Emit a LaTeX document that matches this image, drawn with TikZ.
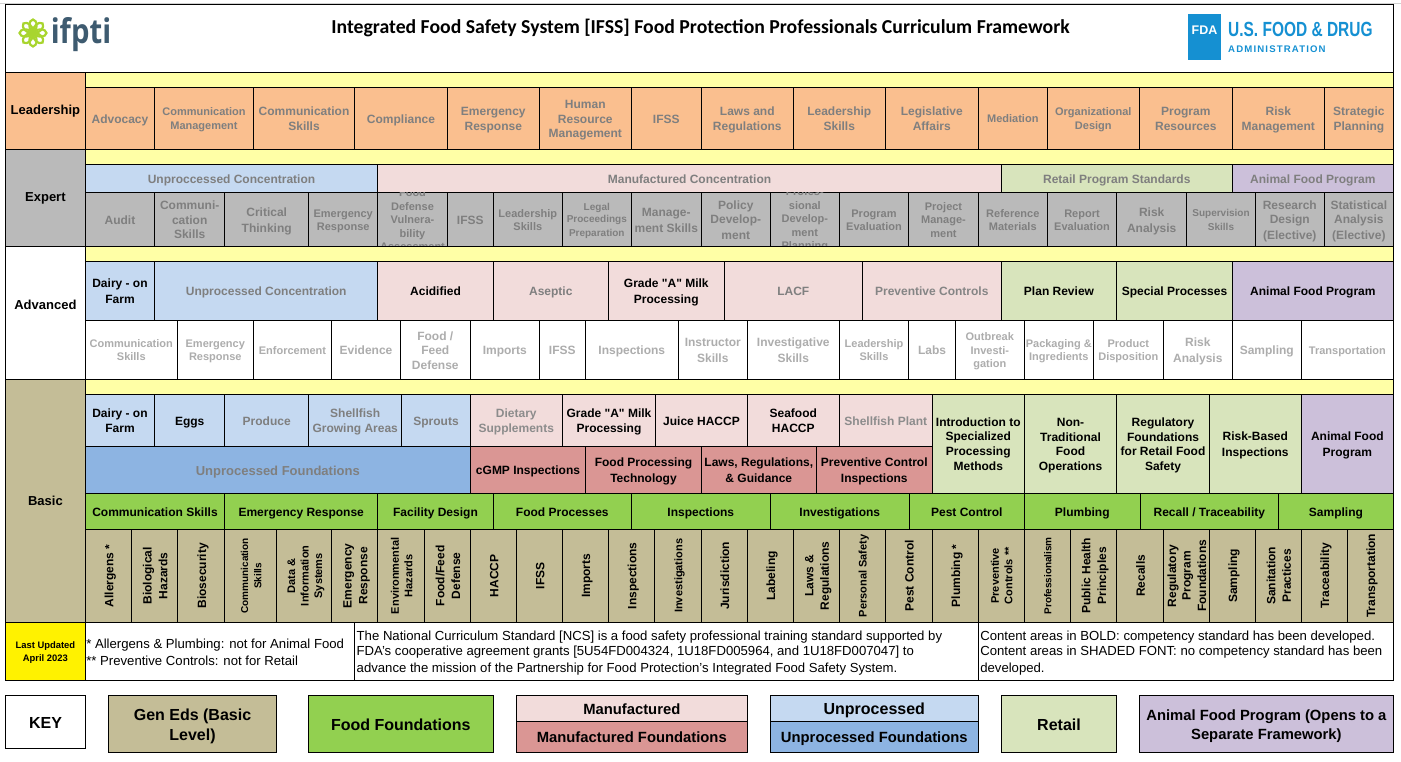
\documentclass[tikz,border=0pt]{standalone}
\usepackage{fontspec}
\setmainfont{Liberation Sans}
\newfontfamily\titlefont{Carlito}
\newfontfamily\logofont{Open Sans}
\newfontfamily\fdaspaced[LetterSpace=12]{Liberation Sans}
\usepackage{xcolor}
\usepackage{tikz}

\definecolor{leadorange}{HTML}{FABF8F}
\definecolor{expgray}{HTML}{BABABA}
\definecolor{stripyellow}{HTML}{FFFFA6}
\definecolor{unprlight}{HTML}{C5D9F1}
\definecolor{unprdark}{HTML}{8DB4E2}
\definecolor{manulight}{HTML}{F2DCDB}
\definecolor{manudark}{HTML}{DA9694}
\definecolor{retailgreen}{HTML}{D8E4BC}
\definecolor{animalpurple}{HTML}{CCC0DA}
\definecolor{foodgreen}{HTML}{92D050}
\definecolor{gentan}{HTML}{C4BD97}
\definecolor{shadetxt}{HTML}{7F7F7F}
\definecolor{paletxt}{HTML}{ADADAD}
\definecolor{flowerlime}{HTML}{A8D52E}
\definecolor{ifptislate}{HTML}{3E5B70}
\definecolor{fdablue}{HTML}{1590D2}

\newcommand{\cellfont}{\fontsize{12}{14.5}\selectfont\bfseries}
\newcommand{\cellstrut}{\rule[-.21em]{0pt}{1.22em}}
\tikzset{
	cellbase/.style={draw=black,line width=1pt,rectangle,anchor=north west,inner sep=0pt,outer sep=0pt,align=flush center,font=\cellfont,text=black},
	cellbox/.style={cellbase,text width=\pgfkeysvalueof{/pgf/minimum width},execute at begin node=\cellstrut,execute at end node=\cellstrut},
	fsm/.style={font=\fontsize{11}{13.5}\selectfont\bfseries},
	fxs/.style={font=\fontsize{10}{12}\selectfont\bfseries},
	shade/.style={text=shadetxt},
	levelcell/.style={cellbase,font=\fontsize{13}{15}\selectfont\bfseries},
	strip/.style={cellbase,fill=stripyellow,minimum width=1308.2},
	leadcell/.style={cellbox,fill=leadorange,text=shadetxt,minimum height=62},
	bandcell/.style={cellbox,text=shadetxt,minimum height=27.3},
	expcell/.style={cellbox,fill=expgray,text=shadetxt,minimum height=54.4},
	advtop/.style={cellbox,minimum height=59},
	advcell/.style={cellbox,fill=white,text=paletxt,minimum height=59},
	basictop/.style={cellbox,minimum height=52},
	foundcell/.style={cellbox,minimum height=47},
	retailcell/.style={cellbox,fill=retailgreen,minimum height=99},
	greencell/.style={cellbox,fill=foodgreen,minimum height=36},
	tancell/.style={cellbox,fill=gentan,rotate=90,anchor=north east,minimum width=93},
	notecell/.style={cellbox,fill=white,align=flush left,minimum height=58,font=\fontsize{13.15}{15}\selectfont},
	keycell/.style={cellbox,font=\fontsize{16}{20}\selectfont\bfseries},
	keysmall/.style={font=\fontsize{14.8}{18}\selectfont\bfseries},
}

\begin{document}
\begin{tikzpicture}[x=1pt,y=-1pt]
	\useasboundingbox (0,0) rectangle (1401,762);
	\coordinate (topL) at (0,3.4);
	\coordinate (topR) at (1401,3.4);
	\draw[line width=1pt,color=black!18] (topL)--(topR);

	%header
	\node[cellbase,minimum width=1388,minimum height=67.6] (header) at (5.5,4.7) {};
	\node[font=\titlefont\fontsize{19.75}{22}\selectfont\bfseries] (title) at (700.5,27.7) {Integrated Food Safety System [IFSS] Food Protection Professionals Curriculum Framework};
	\foreach \a in {0,45,...,315}
		\draw[flowerlime,line width=2.2pt,rotate around={\a:(33,33)}] (33,25.5) ellipse (3.6 and 6);
	\node[font=\logofont\fontsize{34}{34}\selectfont\bfseries,text=ifptislate,xscale=0.86,transform shape] (ifpti) at (81,35) {ifpti};
	\node[fill=fdablue,minimum width=32.4,minimum height=46.5,inner sep=0pt,text=white,font=\fontsize{12.5}{14}\selectfont\bfseries] (fdabox) at (1204.5,37.2) {\raisebox{13pt}{FDA}};
	\node[anchor=west,inner sep=0pt,text=fdablue,xscale=0.755,transform shape,font=\fontsize{20.5}{22}\selectfont\bfseries] (fdaname) at (1228,29) {U.S. FOOD \& DRUG};
	\node[anchor=west,inner sep=0pt,text=fdablue,font=\fdaspaced\fontsize{9.6}{11}\selectfont\bfseries] (fdaadmin) at (1228,49) {ADMINISTRATION};

	%level column
	\node[levelcell,fill=leadorange,minimum width=79.8,minimum height=77] (leadership) at (5.5,72.3) {Leadership};
	\node[levelcell,fill=expgray,minimum width=79.8,minimum height=97.4] (expert) at (5.5,149.3) {Expert};
	\node[levelcell,fill=white,minimum width=79.8,minimum height=132.6] (advanced) at (5.5,246.7) {};
	\node[font=\fontsize{13}{15}\selectfont\bfseries] (advancedLabel) at (45.4,304.5) {Advanced};
	\node[levelcell,fill=gentan,minimum width=79.8,minimum height=243] (basic) at (5.5,379.3) {Basic};

	%leadership
	\node[strip,minimum height=15] (leadStrip) at (85.3,72.3) {};
	\node[leadcell,minimum width=69.4] (leadAdvocacy) at (85.3,87.3) {Advocacy};
	\node[leadcell,fsm,minimum width=98.6] (leadCommMgmt) at (154.7,87.3) {Communication\\Management};
	\node[leadcell,minimum width=101.4] (leadCommSkills) at (253.3,87.3) {Communication\\Skills};
	\node[leadcell,minimum width=92.6] (leadCompliance) at (354.7,87.3) {Compliance};
	\node[leadcell,minimum width=92] (leadEmergency) at (447.3,87.3) {Emergency\\Response};
	\node[leadcell,minimum width=92] (leadHuman) at (539.3,87.3) {Human\\Resource\\Management};
	\node[leadcell,minimum width=70] (leadIFSS) at (631.3,87.3) {IFSS};
	\node[leadcell,minimum width=92] (leadLaws) at (701.3,87.3) {Laws and\\Regulations};
	\node[leadcell,minimum width=92] (leadLeadership) at (793.3,87.3) {Leadership\\Skills};
	\node[leadcell,minimum width=93] (leadLegislative) at (885.3,87.3) {Legislative\\Affairs};
	\node[leadcell,fsm,minimum width=69] (leadMediation) at (978.3,87.3) {Mediation};
	\node[leadcell,fsm,minimum width=92] (leadOrganizational) at (1047.3,87.3) {Organizational\\Design};
	\node[leadcell,minimum width=93] (leadProgram) at (1139.3,87.3) {Program\\Resources};
	\node[leadcell,minimum width=92] (leadRisk) at (1232.3,87.3) {Risk\\Management};
	\node[leadcell,minimum width=69.2] (leadStrategic) at (1324.3,87.3) {Strategic\\Planning};

	%expert
	\node[strip,minimum height=15.7] (expStrip) at (85.3,149.3) {};
	\node[bandcell,fill=unprlight,minimum width=292.4] (expUnproc) at (85.3,165) {Unproccessed Concentration};
	\node[bandcell,fill=manulight,minimum width=623.6] (expManu) at (377.7,165) {Manufactured Concentration};
	\node[bandcell,fill=retailgreen,minimum width=231] (expRetail) at (1001.3,165) {Retail Program Standards};
	\node[bandcell,fill=animalpurple,minimum width=161.2] (expAnimal) at (1232.3,165) {Animal Food Program};
	\node[expcell,minimum width=69.4] (expAudit) at (85.3,192.3) {Audit};
	\node[expcell,minimum width=70] (expComm) at (154.7,192.3) {Communi-\\cation\\Skills};
	\node[expcell,minimum width=84] (expCritical) at (224.7,192.3) {Critical\\Thinking};
	\node[expcell,fsm,minimum width=69] (expEmergency) at (308.7,192.3) {Emergency\\Response};
	\node[expcell,minimum width=69.6] (expFoodDefense) at (377.7,192.3) {};
	\node[expcell,minimum width=46] (expIFSS) at (447.3,192.3) {IFSS};
	\node[expcell,fsm,minimum width=69] (expLeadership) at (493.3,192.3) {Leadership\\Skills};
	\node[expcell,fxs,minimum width=69] (expLegal) at (562.3,192.3) {Legal\\Proceedings\\Preparation};
	\node[expcell,minimum width=70] (expManagement) at (631.3,192.3) {Manage-\\ment Skills};
	\node[expcell,minimum width=69] (expPolicy) at (701.3,192.3) {Policy\\Develop-\\ment};
	\node[expcell,minimum width=69] (expProfessional) at (770.3,192.3) {};
	\node[expcell,fsm,minimum width=69.4] (expProgram) at (839.3,192.3) {Program\\Evaluation};
	\node[expcell,fsm,minimum width=69.6] (expProject) at (908.7,192.3) {Project\\Manage-\\ment};
	\node[expcell,fsm,minimum width=69] (expReference) at (978.3,192.3) {Reference\\Materials};
	\node[expcell,fsm,minimum width=69.4] (expReport) at (1047.3,192.3) {Report\\Evaluation};
	\node[expcell,minimum width=70] (expRisk) at (1116.7,192.3) {Risk\\Analysis};
	\node[expcell,fxs,minimum width=68.6] (expSupervision) at (1186.7,192.3) {Supervision\\Skills};
	\node[expcell,minimum width=69] (expResearch) at (1255.3,192.3) {Research\\Design\\(Elective)};
	\node[expcell,minimum width=69.2] (expStatistical) at (1324.3,192.3) {Statistical\\Analysis\\(Elective)};
	%these two run over their cells
	\begin{scope}
		\clip (expFoodDefense.north west) rectangle (expFoodDefense.south east);
		\node[fsm,text=shadetxt,align=center,inner sep=0pt] (expFoodText) at ([yshift=-.5pt]expFoodDefense.center) {Food\\Defense\\Vulnera-\\bility\\Assessment};
	\end{scope}
	\begin{scope}
		\clip (expProfessional.north west) rectangle (expProfessional.south east);
		\node[fsm,text=shadetxt,align=center,inner sep=0pt] (expProfText) at ([yshift=-.5pt]expProfessional.center) {Profes-\\sional\\Develop-\\ment\\Planning};
	\end{scope}

	%advanced
	\node[strip,minimum height=14.6] (advStrip) at (85.3,246.7) {};
	\node[advtop,fill=unprlight,minimum width=69.4] (advDairy) at (85.3,261.3) {Dairy - on\\Farm};
	\node[advtop,fill=unprlight,shade,minimum width=223] (advUnproc) at (154.7,261.3) {Unprocessed Concentration};
	\node[advtop,fill=manulight,minimum width=115.6] (advAcidified) at (377.7,261.3) {Acidified};
	\node[advtop,fill=manulight,shade,minimum width=115] (advAseptic) at (493.3,261.3) {Aseptic};
	\node[advtop,fill=manulight,minimum width=116] (advGrade) at (608.3,261.3) {Grade \textquotedbl A\textquotedbl{} Milk\\Processing};
	\node[advtop,fill=manulight,shade,minimum width=138] (advLACF) at (724.3,261.3) {LACF};
	\node[advtop,fill=manulight,text=black!48,minimum width=139] (advPreventive) at (862.3,261.3) {Preventive Controls};
	\node[advtop,fill=retailgreen,minimum width=115.4] (advPlan) at (1001.3,261.3) {Plan Review};
	\node[advtop,fill=retailgreen,minimum width=115.6] (advSpecial) at (1116.7,261.3) {Special Processes};
	\node[advtop,fill=animalpurple,minimum width=161.2] (advAnimal) at (1232.3,261.3) {Animal Food Program};
	\node[advcell,fsm,minimum width=92] (advComm) at (85.3,320.3) {Communication\\Skills};
	\node[advcell,fsm,minimum width=76] (advEmergency) at (177.3,320.3) {Emergency\\Response};
	\node[advcell,fsm,minimum width=78.4] (advEnforcement) at (253.3,320.3) {Enforcement};
	\node[advcell,minimum width=68.6] (advEvidence) at (331.7,320.3) {Evidence};
	\node[advcell,minimum width=70] (advFood) at (400.3,320.3) {Food /\\Feed\\Defense};
	\node[advcell,minimum width=69] (advImports) at (470.3,320.3) {Imports};
	\node[advcell,minimum width=46] (advIFSS) at (539.3,320.3) {IFSS};
	\node[advcell,minimum width=93] (advInspections) at (585.3,320.3) {Inspections};
	\node[advcell,minimum width=69] (advInstructor) at (678.3,320.3) {Instructor\\Skills};
	\node[advcell,minimum width=92] (advInvestigative) at (747.3,320.3) {Investigative\\Skills};
	\node[advcell,fsm,minimum width=69.4] (advLeadership) at (839.3,320.3) {Leadership\\Skills};
	\node[advcell,minimum width=46.6] (advLabs) at (908.7,320.3) {Labs};
	\node[advcell,fsm,minimum width=69] (advOutbreak) at (955.3,320.3) {Outbreak\\Investi-\\gation};
	\node[advcell,fsm,minimum width=69] (advPackaging) at (1024.3,320.3) {Packaging \&\\Ingredients};
	\node[advcell,fsm,minimum width=70] (advProduct) at (1093.3,320.3) {Product\\Disposition};
	\node[advcell,minimum width=69] (advRisk) at (1163.3,320.3) {Risk\\Analysis};
	\node[advcell,minimum width=69] (advSampling) at (1232.3,320.3) {Sampling};
	\node[advcell,fsm,minimum width=92.2] (advTransportation) at (1301.3,320.3) {Transportation};

	%basic
	\node[strip,minimum height=15] (basStrip) at (85.3,379.3) {};
	\node[basictop,fill=unprlight,minimum width=69.4] (basDairy) at (85.3,394.3) {Dairy - on\\Farm};
	\node[basictop,fill=unprlight,minimum width=70] (basEggs) at (154.7,394.3) {Eggs};
	\node[basictop,fill=unprlight,shade,minimum width=84] (basProduce) at (224.7,394.3) {Produce};
	\node[basictop,fill=unprlight,shade,minimum width=93] (basShellfish) at (308.7,394.3) {Shellfish\\Growing Areas};
	\node[basictop,fill=unprlight,shade,minimum width=68.6] (basSprouts) at (401.7,394.3) {Sprouts};
	\node[basictop,fill=manulight,text=black!45,minimum width=92] (basDietary) at (470.3,394.3) {Dietary\\Supplements};
	\node[basictop,fill=manulight,minimum width=93.4] (basGrade) at (562.3,394.3) {Grade \textquotedbl A\textquotedbl{} Milk\\Processing};
	\node[basictop,fill=manulight,minimum width=91.6] (basJuice) at (655.7,394.3) {Juice HACCP};
	\node[basictop,fill=manulight,minimum width=92] (basSeafood) at (747.3,394.3) {Seafood\\HACCP};
	\node[basictop,fill=manulight,text=black!45,minimum width=93] (basPlant) at (839.3,394.3) {Shellfish Plant};
	\node[foundcell,fill=unprdark,shade,font=\fontsize{13}{15}\selectfont\bfseries,minimum width=385] (basUnprocFound) at (85.3,446.3) {Unprocessed Foundations};
	\node[foundcell,fill=manudark,minimum width=115.4] (basCGMP) at (470.3,446.3) {cGMP Inspections};
	\node[foundcell,fill=manudark,minimum width=115.6] (basTechnology) at (585.7,446.3) {Food Processing\\Technology};
	\node[foundcell,fill=manudark,minimum width=115] (basLaws) at (701.3,446.3) {Laws, Regulations,\\\& Guidance};
	\node[foundcell,fill=manudark,minimum width=116] (basPrevInsp) at (816.3,446.3) {Preventive Control\\Inspections};
	\node[retailcell,minimum width=92] (basIntro) at (932.3,394.3) {Introduction to\\Specialized\\Processing\\Methods};
	\node[retailcell,minimum width=92.4] (basNonTrad) at (1024.3,394.3) {Non-\\Traditional\\Food\\Operations};
	\node[retailcell,minimum width=92.6] (basRegFound) at (1116.7,394.3) {Regulatory\\Foundations\\for Retail Food\\Safety};
	\node[retailcell,minimum width=92] (basRiskBased) at (1209.3,394.3) {Risk-Based\\Inspections};
	\node[retailcell,fill=animalpurple,minimum width=92.2] (basAnimal) at (1301.3,394.3) {Animal Food\\Program};

	%food foundations
	\node[greencell,minimum width=139.4] (greenComm) at (85.3,493.3) {Communication Skills};
	\node[greencell,minimum width=153] (greenEmergency) at (224.7,493.3) {Emergency Response};
	\node[greencell,minimum width=115.6] (greenFacility) at (377.7,493.3) {Facility Design};
	\node[greencell,minimum width=138] (greenProcesses) at (493.3,493.3) {Food Processes};
	\node[greencell,minimum width=139] (greenInspections) at (631.3,493.3) {Inspections};
	\node[greencell,minimum width=139] (greenInvestigations) at (770.3,493.3) {Investigations};
	\node[greencell,minimum width=115] (greenPest) at (909.3,493.3) {Pest Control};
	\node[greencell,minimum width=116] (greenPlumbing) at (1024.3,493.3) {Plumbing};
	\node[greencell,minimum width=138] (greenRecall) at (1140.3,493.3) {Recall / Traceability};
	\node[greencell,minimum width=115.2] (greenSampling) at (1278.3,493.3) {Sampling};

	%gen eds, turned on their side
	\node[tancell,minimum height=46.4] (tanAllergens) at (85.3,529.3) {Allergens *};
	\node[tancell,minimum height=46] (tanBiological) at (131.7,529.3) {Biological\\Hazards};
	\node[tancell,minimum height=47] (tanBiosecurity) at (177.7,529.3) {Biosecurity};
	\node[tancell,fxs,minimum height=52] (tanComm) at (224.7,529.3) {Communication\\Skills};
	\node[tancell,fsm,minimum height=55] (tanData) at (276.7,529.3) {Data \&\\Information\\Systems};
	\node[tancell,minimum height=46] (tanEmergency) at (331.7,529.3) {Emergency\\Response};
	\node[tancell,fsm,minimum height=47] (tanEnvironmental) at (377.7,529.3) {Environmental\\Hazards};
	\node[tancell,minimum height=45.6] (tanFood) at (424.7,529.3) {Food/Feed\\Defense};
	\node[tancell,minimum height=46.4] (tanHACCP) at (470.3,529.3) {HACCP};
	\node[tancell,minimum height=45.6] (tanIFSS) at (516.7,529.3) {IFSS};
	\node[tancell,minimum height=46] (tanImports) at (562.3,529.3) {Imports};
	\node[tancell,minimum height=46.4] (tanInspections) at (608.3,529.3) {Inspections};
	\node[tancell,fsm,minimum height=46.6] (tanInvestigations) at (654.7,529.3) {Investigations};
	\node[tancell,minimum height=46] (tanJurisdiction) at (701.3,529.3) {Jurisdiction};
	\node[tancell,minimum height=46] (tanLabeling) at (747.3,529.3) {Labeling};
	\node[tancell,minimum height=46] (tanLaws) at (793.3,529.3) {Laws \&\\Regulations};
	\node[tancell,fsm,minimum height=46] (tanPersonal) at (839.3,529.3) {Personal Safety};
	\node[tancell,minimum height=47] (tanPest) at (885.3,529.3) {Pest Control};
	\node[tancell,minimum height=46] (tanPlumbing) at (932.3,529.3) {Plumbing *};
	\node[tancell,fsm,minimum height=46] (tanPreventive) at (978.3,529.3) {Preventive\\Controls **};
	\node[tancell,fxs,minimum height=46] (tanProfessionalism) at (1024.3,529.3) {Professionalism};
	\node[tancell,minimum height=46.4] (tanPublic) at (1070.3,529.3) {Public Health\\Principles};
	\node[tancell,minimum height=46.6] (tanRecalls) at (1116.7,529.3) {Recalls};
	\node[tancell,minimum height=46] (tanRegulatory) at (1163.3,529.3) {Regulatory\\Program\\Foundations};
	\node[tancell,minimum height=46] (tanSampling) at (1209.3,529.3) {Sampling};
	\node[tancell,minimum height=46] (tanSanitation) at (1255.3,529.3) {Sanitation\\Practices};
	\node[tancell,minimum height=46] (tanTraceability) at (1301.3,529.3) {Traceability};
	\node[tancell,minimum height=46.2] (tanTransportation) at (1347.3,529.3) {Transportation};

	%notes
	\node[cellbox,fill=yellow,minimum width=79.8,minimum height=58,font=\fontsize{9.4}{11}\selectfont\bfseries] (updated) at (5.5,622.3) {Last Updated\\April 2023};
	\node[notecell,minimum width=269.4,text width=267.4,inner xsep=1pt] (noteAllergens) at (85.3,622.3) {* Allergens \& Plumbing: not for Animal Food\\{}** Preventive Controls: not for Retail};
	\node[notecell,minimum width=623.6,text width=619.6,inner xsep=2pt] (noteNCS) at (354.7,622.3) {The National Curriculum Standard [NCS] is a food safety professional training standard supported by\\FDA's cooperative agreement grants [5U54FD004324, 1U18FD005964, and 1U18FD007047] to\\advance the mission of the Partnership for Food Protection's Integrated Food Safety System.};
	\node[notecell,minimum width=415.2,text width=411.2,inner xsep=2pt] (noteBold) at (978.3,622.3) {Content areas in BOLD: competency standard has been developed.\\Content areas in SHADED FONT: no competency standard has been\\developed.};

	%key
	\node[keycell,fill=white,minimum width=80,minimum height=53] (keyKey) at (5.5,695.3) {KEY};
	\node[keycell,fill=gentan,minimum width=168.4,minimum height=57] (keyGen) at (108.3,695.3) {Gen Eds (Basic\\Level)};
	\node[keycell,fill=foodgreen,minimum width=185,minimum height=57] (keyFood) at (308.3,695.3) {Food Foundations};
	\node[keycell,fill=manulight,keysmall,minimum width=231,minimum height=26] (keyManu) at (516.3,695.3) {Manufactured};
	\node[keycell,fill=manudark,keysmall,minimum width=231,minimum height=31] (keyManuFound) at (516.3,721.3) {Manufactured Foundations};
	\node[keycell,fill=unprlight,minimum width=208,minimum height=26] (keyUnpr) at (770.3,695.3) {Unprocessed};
	\node[keycell,fill=unprdark,keysmall,minimum width=208,minimum height=31] (keyUnprFound) at (770.3,721.3) {Unprocessed Foundations};
	\node[keycell,fill=retailgreen,minimum width=115.4,minimum height=57] (keyRetail) at (1001.3,695.3) {Retail};
	\node[keycell,fill=animalpurple,keysmall,minimum width=254.2,minimum height=57] (keyAnimal) at (1139.3,695.3) {Animal Food Program (Opens to a\\Separate Framework)};
\end{tikzpicture}
\end{document}
